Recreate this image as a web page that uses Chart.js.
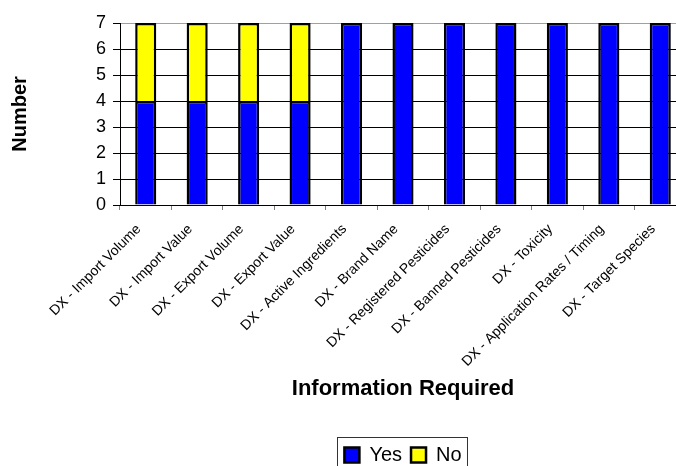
<!DOCTYPE html>
<html>
<head>
<meta charset="utf-8">
<script src="https://cdn.jsdelivr.net/npm/chart.js@4/dist/chart.umd.min.js"></script>
<style>
  html, body { margin: 0; padding: 0; background: #fff; overflow: hidden; }
  #wrap { width: 700px; height: 475px; }
</style>
</head>
<body>
<div id="wrap"><canvas id="c" width="700" height="475"></canvas></div>
<script>
// Categories of information requested, and how many answered Yes / No
const categories = [
  'DX - Import Volume',
  'DX - Import Value',
  'DX - Export Volume',
  'DX - Export Value',
  'DX - Active Ingredients',
  'DX - Brand Name',
  'DX - Registered Pesticides',
  'DX - Banned Pesticides',
  'DX - Toxicity',
  'DX - Application Rates / Timing',
  'DX - Target Species'
];
const yesCounts = [4, 4, 4, 4, 7, 7, 7, 7, 7, 7, 7];
const noCounts  = [3, 3, 3, 3, 0, 0, 0, 0, 0, 0, 0];
const yTicks = [0, 1, 2, 3, 4, 5, 6, 7];

const FONT = "'Liberation Sans', Arial, sans-serif";

// Centre the legend under the plot area and frame it with a thin box
const legendFrame = {
  id: 'legendFrame',
  afterLayout(chart) {
    const lg = chart.legend;
    lg.left = chart.chartArea.left;
    lg.right = chart.chartArea.right;
    lg.width = lg.right - lg.left;
  },
  afterDraw(chart) {
    const lg = chart.legend;
    const boxes = lg.legendHitBoxes;
    if (!boxes || !boxes.length) return;
    const first = boxes[0];
    const last = boxes[boxes.length - 1];
    const x0 = Math.round(first.left - 7) + 0.5;
    const x1 = Math.round(last.left + last.width + 5) + 0.5;
    const ctx = chart.ctx;
    ctx.save();
    ctx.strokeStyle = '#333';
    ctx.lineWidth = 1;
    ctx.strokeRect(x0, Math.round(lg.top + 1) + 0.5, x1 - x0, lg.height + 20);
    ctx.restore();
  }
};

new Chart(document.getElementById('c'), {
  type: 'bar',
  data: {
    labels: categories,
    datasets: [
      { label: 'Yes', data: yesCounts, backgroundColor: '#0000ff', borderColor: '#000', borderWidth: 2.5 },
      { label: 'No',  data: noCounts,  backgroundColor: '#ffff00', borderColor: '#000', borderWidth: 2.5 }
    ]
  },
  options: {
    responsive: false,
    animation: false,
    devicePixelRatio: 1,
    layout: { padding: { top: 23, right: 14, left: 0, bottom: 0 } },
    datasets: { bar: { categoryPercentage: 1, barPercentage: 0.41 } },
    plugins: {
      tooltip: { enabled: false },
      legend: {
        position: 'bottom',
        labels: {
          color: '#000',
          font: { family: FONT, size: 20 },
          boxWidth: 15,
          boxHeight: 15,
          padding: 9
        }
      }
    },
    scales: {
      x: {
        stacked: true,
        afterFit(scale) { scale.height = 231; },
        grid: { offset: true, drawOnChartArea: false, drawTicks: true, tickLength: 5, color: '#808080' },
        border: { display: true, color: '#000', width: 1 },
        ticks: {
          color: '#000',
          font: { family: FONT, size: 14 },
          minRotation: 45,
          maxRotation: 45,
          autoSkip: false,
          padding: 11,
          labelOffset: -7
        },
        title: {
          display: true,
          text: 'Information Required',
          color: '#000',
          font: { family: FONT, size: 22, weight: 'bold' },
          padding: { top: 0, bottom: 34 }
        }
      },
      y: {
        stacked: true,
        min: 0,
        max: 7,
        afterFit(scale) { scale.width = 120; },
        afterBuildTicks(scale) { scale.ticks = yTicks.map(v => ({ value: v })); },
        grid: {
          color: (c) => (c.tick && c.tick.value === 7 ? '#a0a0a0' : '#000'),
          tickColor: '#000',
          tickLength: 7,
          lineWidth: 1
        },
        border: { display: true, color: '#000', width: 1 },
        ticks: {
          color: '#000',
          font: { family: FONT, size: 18 },
          padding: 7
        },
        title: {
          display: true,
          text: 'Number',
          color: '#000',
          font: { family: FONT, size: 20, weight: 'bold' },
          padding: { top: 8, bottom: 0 }
        }
      }
    }
  },
  plugins: [legendFrame]
});
</script>
</body>
</html>
